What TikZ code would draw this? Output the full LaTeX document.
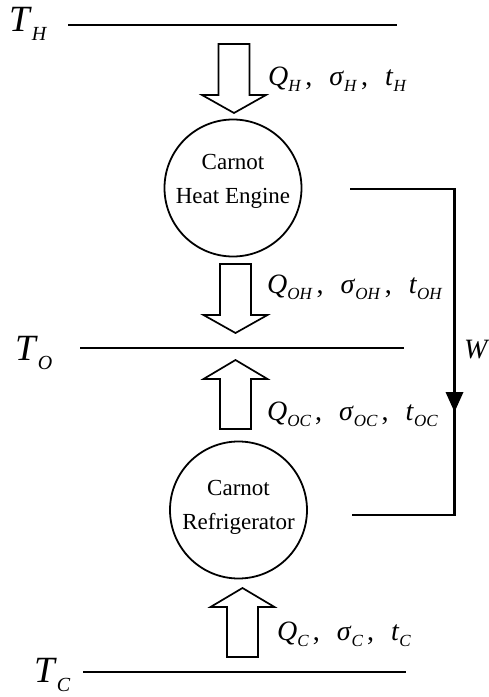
\documentclass[tikz,border=0pt]{standalone}
\usepackage{fontspec}
\setmainfont{Liberation Serif}
\newcommand{\vsub}[2]{\textit{#1}\raisebox{-0.5ex}{\fontsize{17}{17}\selectfont\textit{#2}}}
\newcommand{\tsub}[2]{\textit{#1}\raisebox{-0.55ex}{\fontsize{20}{20}\selectfont\textit{#2}}}
\newcommand{\sep}{\hspace{4pt},\hspace{17pt}}
\begin{document}
\begin{tikzpicture}[x=1pt,y=-1pt,
  level/.style={line width=1.8pt},
  blockarr/.style={draw=black,fill=white,line width=1.7pt,line join=miter},
  engine/.style={circle,draw,line width=1.8pt,minimum size=137pt,inner sep=0pt},
  ctext/.style={align=center,font=\fontsize{23}{34}\selectfont},
  tlabel/.style={anchor=base west,font=\fontsize{37}{37}\selectfont},
  flabel/.style={anchor=base west,inner sep=0pt,font=\fontsize{28}{28}\selectfont},
  work/.style={line width=2.4pt},
  downarrow/.pic={\draw[blockarr] (-15.5,0) -- (15.5,0) -- (15.5,51) -- (32,51) -- (0,69) -- (-32,51) -- (-15.5,51) -- cycle;},
  uparrow/.pic={\draw[blockarr] (-15.5,69) -- (15.5,69) -- (15.5,19) -- (32,19) -- (0,0) -- (-32,19) -- (-15.5,19) -- cycle;}
]
\useasboundingbox[fill=white] (0,0) rectangle (489,697);

% reservoir levels
\coordinate (h1) at (68,25);  \coordinate (h2) at (397,25);
\coordinate (o1) at (80,348); \coordinate (o2) at (404,348);
\coordinate (c1) at (83,672); \coordinate (c2) at (406,672);
\draw[level] (h1) -- (h2);
\draw[level] (o1) -- (o2);
\draw[level] (c1) -- (c2);

\node[tlabel,inner sep=0pt] (TH) at (9,31) {\tsub{T}{H}};
\node[tlabel,inner sep=0pt] (TO) at (15,360) {\tsub{T}{O}};
\node[tlabel,inner sep=0pt] (TC) at (34,682) {\tsub{T}{C}};

% engines
\node[engine] (he) at (233,188) {};
\node[ctext] (het) at (233,181) {Carnot\\Heat Engine};
\node[engine] (rf) at (238.5,510) {};
\node[ctext] (rft) at (238.5,507) {Carnot\\Refrigerator};

% block arrows
\pic at (234,44) {downarrow};
\pic at (235.5,264) {downarrow};
\pic at (235.5,360) {uparrow};
\pic at (242.5,588) {uparrow};

% flow labels
\node[flabel] (lh) at (268,85) {\vsub{Q}{H}\sep\vsub{σ}{H}\sep\vsub{t}{H}};
\node[flabel] (loh) at (267,293) {\vsub{Q}{OH}\sep\vsub{σ}{OH}\sep\vsub{t}{OH}};
\node[flabel] (loc) at (267,420) {\vsub{Q}{OC}\sep\vsub{σ}{OC}\sep\vsub{t}{OC}};
\node[flabel] (lc) at (277,640) {\vsub{Q}{C}\sep\vsub{σ}{C}\sep\vsub{t}{C}};

% work connection
\coordinate (w1) at (350,189);
\coordinate (w2) at (454.5,189);
\coordinate (w3) at (454.5,515);
\coordinate (w4) at (352,515);
\coordinate (wt) at (454.5,412);
\draw[work,line join=miter] (w1) -- (w2) -- (w3) -- (w4);
\fill ([xshift=-9pt,yshift=20pt]wt) -- ([xshift=9pt,yshift=20pt]wt) -- (wt) -- cycle;
\node[anchor=base west,inner sep=0pt,font=\fontsize{28}{28}\selectfont] (W) at (464,358) {\textit{W}};
\end{tikzpicture}
\end{document}
